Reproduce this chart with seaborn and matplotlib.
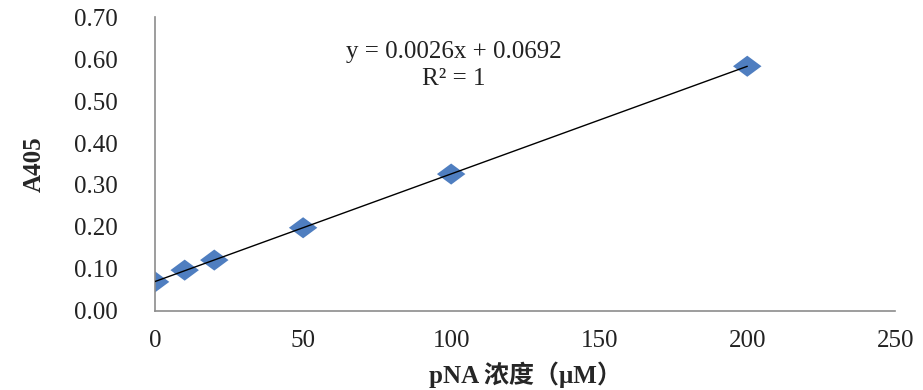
import numpy as np
import pandas as pd
import matplotlib
matplotlib.use("Agg")
import matplotlib.pyplot as plt
from matplotlib.path import Path
import seaborn as sns

conc = [0, 10, 20, 50, 100, 200]
a405 = [0.069, 0.097, 0.121, 0.198, 0.326, 0.583]
x_ticks = [0, 50, 100, 150, 200, 250]
y_ticks = [0.0, 0.1, 0.2, 0.3, 0.4, 0.5, 0.6, 0.7]
eq_text = "y = 0.0026x + 0.0692"
r2_text = "R² = 1"

sns.set_style("white")
plt.rcParams['font.family'] = ['Liberation Serif', 'Noto Sans CJK SC', 'DejaVu Sans']

df = pd.DataFrame({"conc": conc, "a405": a405})

# wide diamond like the stretched excel marker
wide_diamond = Path([(-1.35, 0), (0, 1), (1.35, 0), (0, -1), (-1.35, 0)],
                    [Path.MOVETO, Path.LINETO, Path.LINETO, Path.LINETO, Path.CLOSEPOLY])

fig = plt.figure(figsize=(9.23, 3.9), dpi=100)
ax = fig.add_axes([0.168, 0.203, 0.802, 0.753])

sns.scatterplot(data=df, x="conc", y="a405", marker=wide_diamond, s=420,
                color="#4F7EC0", edgecolor="none", ax=ax, zorder=2)
sns.regplot(data=df, x="conc", y="a405", scatter=False, ci=None, truncate=True,
            line_kws={"color": "black", "lw": 1.0, "zorder": 3}, ax=ax)

ax.set_xlim(0, 250)
ax.set_ylim(0, 0.7)
ax.set_xticks(x_ticks)
ax.set_yticks(y_ticks)
ax.set_yticklabels([f"{v:.2f}" for v in y_ticks])
ax.tick_params(axis="both", labelsize=18, length=5, width=1, color="#8c8c8c",
               labelcolor="#222222", direction="out")
ax.tick_params(axis="y", pad=22)
ax.tick_params(axis="x", pad=9)
for side in ["top", "right"]:
    ax.spines[side].set_visible(False)
for side in ["left", "bottom"]:
    ax.spines[side].set_color("#8c8c8c")
    ax.spines[side].set_linewidth(1.2)

ax.set_xlabel("pNA 浓度（μM）", fontsize=18, fontweight="bold", labelpad=7)
ax.set_ylabel("A405", fontsize=18, fontweight="bold", labelpad=20)

ax.text(101, 0.617, eq_text, ha="center", va="center", fontsize=18, color="#222222")
ax.text(101, 0.553, r2_text, ha="center", va="center", fontsize=18, color="#222222")

fig.savefig("out.png", dpi=100)
